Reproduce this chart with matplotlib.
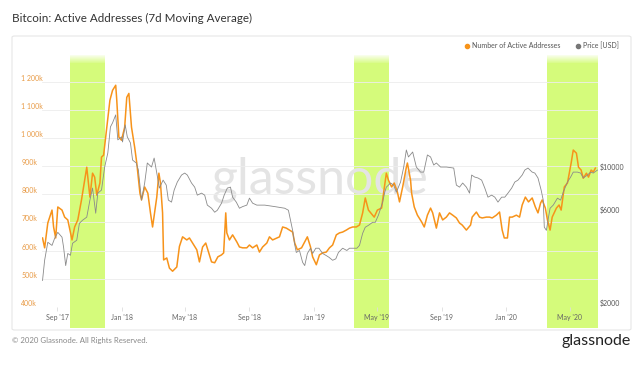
import numpy as np
import pandas as pd
import matplotlib
matplotlib.use("Agg")
import matplotlib.pyplot as plt
import matplotlib.dates as mdates
from matplotlib.lines import Line2D
from matplotlib.patches import FancyBboxPatch
from matplotlib.ticker import FixedLocator, NullLocator

plt.rcParams['font.family'] = ['Lato', 'DejaVu Sans']

# number of active addresses, 7d MA (thousands)
addr_dates = [
    '2017-08-04', '2017-08-08', '2017-08-14', '2017-08-22', '2017-08-25', '2017-08-29',
    '2017-09-02', '2017-09-10', '2017-09-15', '2017-09-21', '2017-09-29', '2017-10-04',
    '2017-10-10', '2017-10-17', '2017-10-23', '2017-10-27', '2017-11-02', '2017-11-07',
    '2017-11-11', '2017-11-15', '2017-11-21', '2017-11-24', '2017-11-28', '2017-12-04',
    '2017-12-10', '2017-12-15', '2017-12-21', '2017-12-23', '2017-12-27', '2018-01-01',
    '2018-01-07', '2018-01-11', '2018-01-15', '2018-01-20', '2018-01-26', '2018-01-30',
    '2018-02-05', '2018-02-08', '2018-02-14', '2018-02-20', '2018-02-25', '2018-03-01',
    '2018-03-09', '2018-03-13', '2018-03-16', '2018-03-20', '2018-03-22', '2018-03-28',
    '2018-04-02', '2018-04-08', '2018-04-16', '2018-04-21', '2018-04-27', '2018-05-05',
    '2018-05-10', '2018-05-16', '2018-05-24', '2018-05-29', '2018-06-04', '2018-06-10',
    '2018-06-14', '2018-06-21', '2018-06-27', '2018-07-03', '2018-07-10', '2018-07-14',
    '2018-07-18', '2018-07-20', '2018-07-25', '2018-07-31', '2018-08-08', '2018-08-13',
    '2018-08-19', '2018-08-27', '2018-09-01', '2018-09-07', '2018-09-15', '2018-09-20',
    '2018-09-26', '2018-10-04', '2018-10-09', '2018-10-15', '2018-10-23', '2018-10-28',
    '2018-11-03', '2018-11-10', '2018-11-16', '2018-11-22', '2018-11-26', '2018-12-01',
    '2018-12-09', '2018-12-15', '2018-12-20', '2018-12-26', '2018-12-30', '2019-01-06',
    '2019-01-12', '2019-01-18', '2019-01-25', '2019-01-31', '2019-02-06', '2019-02-13',
    '2019-02-19', '2019-02-25', '2019-03-04', '2019-03-10', '2019-03-16', '2019-03-23',
    '2019-03-29', '2019-04-04', '2019-04-09', '2019-04-15', '2019-04-23', '2019-04-26',
    '2019-05-02', '2019-05-10', '2019-05-14', '2019-05-19', '2019-05-23', '2019-05-29',
    '2019-06-03', '2019-06-09', '2019-06-13', '2019-06-19', '2019-06-26', '2019-06-28',
    '2019-07-04', '2019-07-06', '2019-07-11', '2019-07-17', '2019-07-25', '2019-07-30',
    '2019-08-05', '2019-08-11', '2019-08-15', '2019-08-22', '2019-08-28', '2019-09-03',
    '2019-09-10', '2019-09-16', '2019-09-22', '2019-09-29', '2019-10-05', '2019-10-10',
    '2019-10-18', '2019-10-26', '2019-10-29', '2019-11-06', '2019-11-12', '2019-11-17',
    '2019-11-25', '2019-12-01', '2019-12-06', '2019-12-14', '2019-12-20', '2019-12-25',
    '2019-12-29', '2020-01-04', '2020-01-08', '2020-01-13', '2020-01-21', '2020-01-27',
    '2020-02-01', '2020-02-07', '2020-02-13', '2020-02-20', '2020-02-26', '2020-03-02',
    '2020-03-07', '2020-03-10', '2020-03-16', '2020-03-20', '2020-03-25', '2020-03-29',
    '2020-04-06', '2020-04-11', '2020-04-15', '2020-04-21', '2020-04-27', '2020-05-04',
    '2020-05-08', '2020-05-14', '2020-05-18', '2020-05-23', '2020-05-27', '2020-06-02',
    '2020-06-06', '2020-06-11', '2020-06-15', '2020-06-19',
]
addr_values = [
    645, 610, 698, 744, 684, 645,
    755, 744, 719, 709, 638, 684,
    709, 780, 850, 896, 790, 875,
    861, 797, 840, 932, 939, 1038,
    1134, 1169, 1187, 1134, 1003, 992,
    1038, 1144, 1158, 1038, 967, 911,
    804, 780, 826, 804, 734, 684,
    790, 875, 840, 734, 567, 574,
    538, 527, 542, 615, 649, 638,
    645, 627, 603, 560, 613, 627,
    603, 560, 557, 578, 585, 592,
    734, 663, 638, 656, 631, 613,
    610, 610, 620, 610, 620, 595,
    613, 627, 649, 638, 645, 649,
    684, 680, 673, 666, 627, 603,
    610, 631, 649, 613, 578, 550,
    585, 592, 595, 610, 620, 656,
    663, 666, 673, 680, 684, 684,
    691, 734, 787, 744, 726, 719,
    744, 751, 808, 875, 850, 826,
    840, 808, 773, 826, 896, 911,
    850, 804, 755, 726, 702, 684,
    726, 751, 734, 680, 734, 709,
    719, 734, 726, 716, 698, 691,
    673, 691, 719, 737, 719, 716,
    719, 719, 716, 726, 737, 673,
    645, 645, 719, 719, 726, 719,
    762, 790, 773, 787, 755, 734,
    769, 780, 751, 709, 673, 719,
    751, 762, 744, 826, 840, 911,
    957, 946, 896, 886, 857, 875,
    861, 886, 879, 893,
]

# BTC price, USD
price_dates = [
    '2017-08-04', '2017-08-08', '2017-08-14', '2017-08-22', '2017-08-27', '2017-09-02',
    '2017-09-10', '2017-09-13', '2017-09-17', '2017-09-21', '2017-09-26', '2017-09-30',
    '2017-10-08', '2017-10-13', '2017-10-19', '2017-10-27', '2017-11-02', '2017-11-07',
    '2017-11-13', '2017-11-17', '2017-11-24', '2017-11-30', '2017-12-06', '2017-12-11',
    '2017-12-15', '2017-12-21', '2017-12-25', '2018-01-01', '2018-01-03', '2018-01-08',
    '2018-01-12', '2018-01-18', '2018-01-22', '2018-01-29', '2018-02-02', '2018-02-08',
    '2018-02-14', '2018-02-19', '2018-02-27', '2018-03-04', '2018-03-08', '2018-03-14',
    '2018-03-21', '2018-03-27', '2018-03-31', '2018-04-06', '2018-04-11', '2018-04-17',
    '2018-04-25', '2018-05-01', '2018-05-06', '2018-05-14', '2018-05-20', '2018-05-25',
    '2018-06-02', '2018-06-08', '2018-06-13', '2018-06-21', '2018-06-27', '2018-07-02',
    '2018-07-10', '2018-07-15', '2018-07-21', '2018-07-27', '2018-07-31', '2018-08-07',
    '2018-08-13', '2018-08-19', '2018-08-27', '2018-09-01', '2018-09-07', '2018-09-15',
    '2018-09-30', '2018-10-19', '2018-11-07', '2018-11-14', '2018-11-18', '2018-11-22',
    '2018-11-26', '2018-11-29', '2018-12-05', '2018-12-11', '2018-12-15', '2018-12-20',
    '2018-12-26', '2018-12-30', '2019-01-05', '2019-01-11', '2019-01-18', '2019-01-24',
    '2019-01-30', '2019-02-06', '2019-02-12', '2019-02-17', '2019-02-25', '2019-03-05',
    '2019-03-10', '2019-03-24', '2019-03-29', '2019-04-04', '2019-04-09', '2019-04-15',
    '2019-04-23', '2019-04-28', '2019-05-04', '2019-05-12', '2019-05-16', '2019-05-19',
    '2019-05-27', '2019-06-02', '2019-06-07', '2019-06-15', '2019-06-21', '2019-06-26',
    '2019-06-30', '2019-07-08', '2019-07-15', '2019-07-23', '2019-07-29', '2019-08-05',
    '2019-08-11', '2019-08-17', '2019-08-22', '2019-08-30', '2019-09-10', '2019-09-24',
    '2019-09-29', '2019-10-05', '2019-10-11', '2019-10-18', '2019-10-24', '2019-10-28',
    '2019-11-03', '2019-11-09', '2019-11-16', '2019-11-22', '2019-11-28', '2019-12-05',
    '2019-12-11', '2019-12-17', '2019-12-24', '2019-12-30', '2020-01-05', '2020-01-12',
    '2020-01-18', '2020-01-24', '2020-02-01', '2020-02-06', '2020-02-12', '2020-02-20',
    '2020-02-25', '2020-03-02', '2020-03-08', '2020-03-12', '2020-03-14', '2020-03-18',
    '2020-03-22', '2020-03-25', '2020-03-31', '2020-04-08', '2020-04-14', '2020-04-19',
    '2020-04-27', '2020-05-03', '2020-05-08', '2020-05-16', '2020-05-22', '2020-05-27',
    '2020-06-04', '2020-06-10', '2020-06-15', '2020-06-23',
]
price_values = [
    2735, 3470, 4290, 4135, 4495, 4825,
    4555, 4045, 3260, 3760, 3680, 4240,
    4395, 5365, 5565, 5770, 7055, 8130,
    6045, 7660, 7940, 10420, 12295, 16735,
    17545, 19275, 14350, 14870, 14005, 17130,
    14870, 13840, 11315, 10930, 10065, 7055,
    8630, 10930, 10420, 11585, 10065, 8130,
    8930, 8420, 7055, 6890, 7940, 8730,
    9480, 9705, 9480, 8630, 8220, 7480,
    7660, 7480, 6650, 6410, 6115, 6260,
    6805, 7480, 8130, 8220, 7305, 6890,
    6410, 6535, 6650, 7220, 6805, 6650,
    6650, 6535, 6410, 6260, 5565, 4940,
    4170, 3805, 3895, 3385, 3260, 3760,
    4000, 3760, 4000, 4000, 3760, 3680,
    3595, 3470, 3530, 3805, 4000, 3895,
    4000, 4000, 4135, 4770, 5125, 5240,
    5430, 5430, 5910, 6890, 7750, 8220,
    8630, 8420, 7750, 8730, 10420, 12745,
    11735, 12440, 10420, 9815, 9815, 12015,
    11735, 10670, 10930, 10420, 10420, 10295,
    8420, 8220, 8630, 8220, 7660, 9480,
    9255, 9160, 8930, 8130, 7305, 7480,
    7305, 6890, 7305, 7305, 7660, 8130,
    8730, 8930, 9480, 10055, 10295, 9815,
    9705, 9160, 7940, 7055, 5125, 4940,
    5770, 6410, 6650, 7220, 7055, 7750,
    8730, 9255, 9815, 9815, 9705, 9160,
    9480, 9815, 9705, 10055,
]

# highlighted periods
band_starts = ['2017-09-26', '2019-03-18', '2020-03-20']
band_ends = ['2017-11-30', '2019-05-24', '2020-06-24']

addr_ticks = [400, 500, 600, 700, 800, 900, 1000, 1100, 1200]
addr_labels = ['400k', '500k', '600k', '700k', '800k', '900k', '1 000k', '1 100k', '1 200k']
price_ticks = [2000, 6000, 10000]
price_labels = ['$2000', '$6000', '$10000']

ORANGE = '#f7931a'
GRAY = '#8a8a8a'
LIME = '#d5fb7b'

fig = plt.figure(figsize=(6.41, 3.65), dpi=100)
fig.patch.set_facecolor('white')

# card frame
fig.add_artist(FancyBboxPatch((12 / 641, 1 - 330 / 365), 619 / 641, 294 / 365,
                              boxstyle='round,pad=0,rounding_size=0.004',
                              transform=fig.transFigure, facecolor='white',
                              edgecolor='#e6e6e6', lw=0.8, zorder=0))

ax = fig.add_axes([42 / 641, 1 - 307 / 365, 556 / 641, 255 / 365])
ax.patch.set_visible(False)
ax2 = ax.twinx()

xa = pd.to_datetime(addr_dates)
xp = pd.to_datetime(price_dates)

# green bands (extend below the axis, fade in at the top)
for s, e in zip(pd.to_datetime(band_starts), pd.to_datetime(band_ends)):
    ax.axvspan(s, e, ymin=-0.083, ymax=0.955, color=LIME, lw=0, zorder=0.2, clip_on=False)
    steps = 10
    edges = np.linspace(0.955, 0.99, steps + 1)
    for i in range(steps):
        ax.axvspan(s, e, ymin=edges[i], ymax=edges[i + 1], color=LIME, lw=0,
                   alpha=1 - (i + 0.5) / steps, zorder=0.2)

ax.text(0.5, 0.5, 'glassnode', transform=ax.transAxes, ha='center', va='center',
        fontsize=36, color='#e4e4e4', zorder=0.3)

ax.plot(xa, addr_values, color=ORANGE, lw=1.1, zorder=3)
ax2.plot(xp, price_values, color=GRAY, lw=0.6, zorder=2)

ax.set_xlim(pd.Timestamp('2017-08-03'), pd.Timestamp('2020-06-24'))
ax.set_ylim(400, 1305)
ax2.set_yscale('log')
ax2.set_ylim(2000, 40460)

for a in (ax, ax2):
    for sp in a.spines.values():
        sp.set_visible(False)

ax.yaxis.set_major_locator(FixedLocator(addr_ticks))
ax.set_yticklabels(addr_labels)
ax.grid(axis='y', color='#ededed', lw=0.6, zorder=0.1)
ax.tick_params(axis='y', length=0, pad=15, labelsize=5, labelcolor='#e89a45')
for lab in ax.get_yticklabels():
    lab.set_ha('left')
    lab.set_va('bottom')

ax2.yaxis.set_major_locator(FixedLocator(price_ticks))
ax2.yaxis.set_minor_locator(NullLocator())
ax2.set_yticklabels(price_labels)
ax2.tick_params(axis='y', which='both', length=0, pad=1, labelsize=5, labelcolor='#555555')
for lab in ax2.get_yticklabels():
    lab.set_va('bottom')

ax.xaxis.set_major_locator(mdates.MonthLocator(bymonth=[1, 5, 9]))
ax.xaxis.set_major_formatter(mdates.DateFormatter("%b '%y"))
ax.tick_params(axis='x', length=3, width=0.6, color='#dddddd', pad=2,
               labelsize=5, labelcolor='#666666')

# title and legend
fig.text(12 / 641, 1 - 18 / 365, 'Bitcoin: Active Addresses (7d Moving Average)',
         fontsize=8.4, color='#333333', va='center', ha='left')
fig.add_artist(Line2D([467 / 641], [1 - 46 / 365], marker='o', ms=3, color=ORANGE,
                      lw=0, transform=fig.transFigure))
fig.text(472 / 641, 1 - 46 / 365, 'Number of Active Addresses', fontsize=5,
         color='#555555', va='center', ha='left')
fig.add_artist(Line2D([578 / 641], [1 - 46 / 365], marker='o', ms=3, color='#777777',
                      lw=0, transform=fig.transFigure))
fig.text(583 / 641, 1 - 46 / 365, 'Price [USD]', fontsize=5,
         color='#555555', va='center', ha='left')

# footer
fig.text(12 / 641, 1 - 341 / 365, '\u00a9 2020 Glassnode. All Rights Reserved.',
         fontsize=5.6, color='#888888', va='center', ha='left')
fig.text(631 / 641, 1 - 341 / 365, 'glassnode', fontsize=11.5, color='#222222',
         va='center', ha='right')

fig.savefig('out.png', dpi=100)
